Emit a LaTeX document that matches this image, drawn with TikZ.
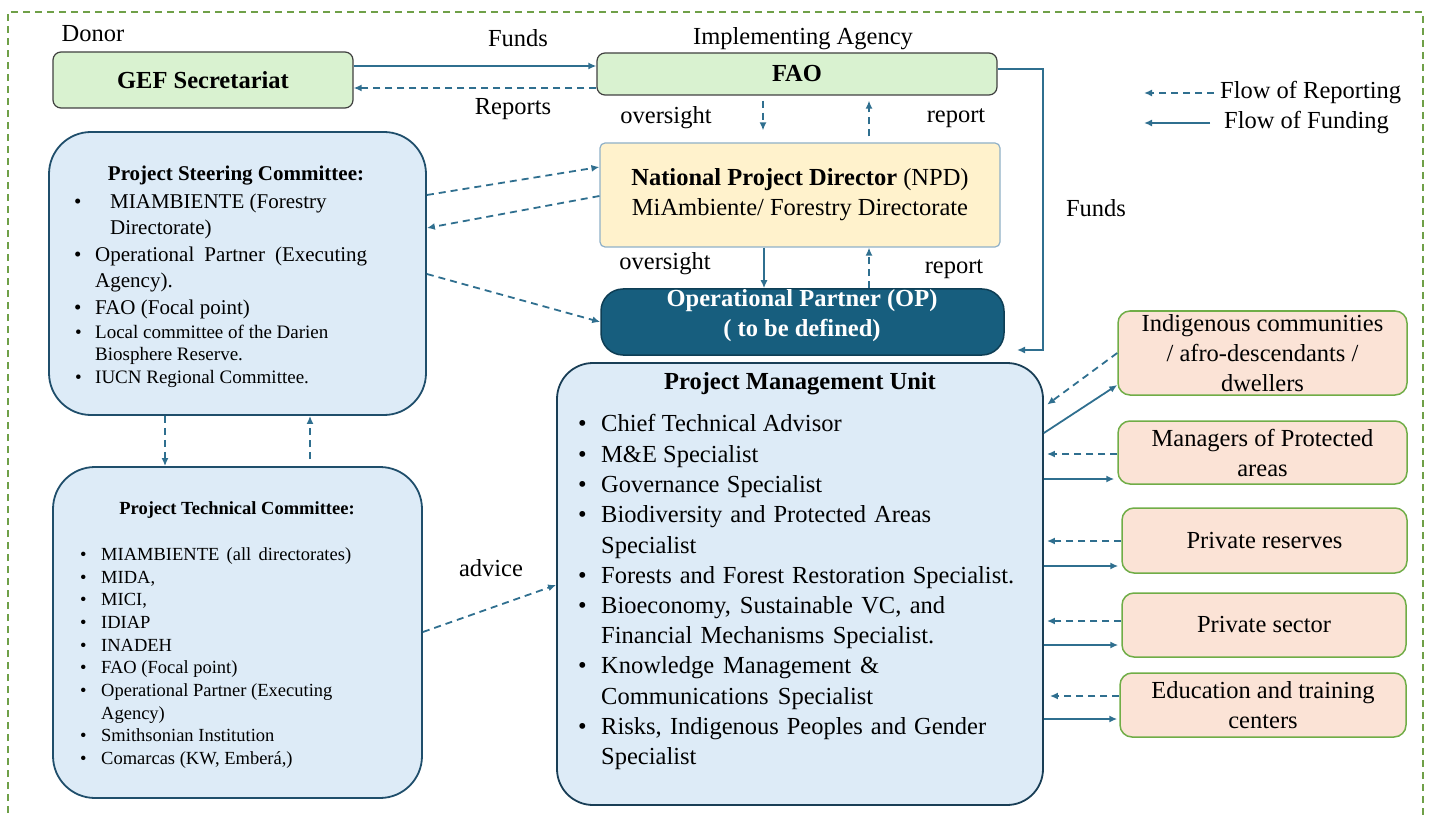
\documentclass[tikz,border=0pt]{standalone}
\usepackage{fontspec}
\setmainfont{Liberation Serif}
\usetikzlibrary{arrows.meta}
\definecolor{arr}{HTML}{2F6F8F}
\definecolor{outg}{HTML}{6FA048}
\definecolor{gfill}{HTML}{D9F2D0}
\definecolor{gdraw}{HTML}{404040}
\definecolor{yfill}{HTML}{FFF2CC}
\definecolor{ydraw}{HTML}{8FB0C8}
\definecolor{opfill}{HTML}{175E7E}
\definecolor{opdraw}{HTML}{0E3E55}
\definecolor{bfill}{HTML}{DDEBF7}
\definecolor{bdraw}{HTML}{1F4E6B}
\definecolor{pfill}{HTML}{FBE3D6}
\definecolor{pdraw}{HTML}{70AD47}
\newcommand\fszL{\fontsize{24.5}{30}\selectfont}
\newcommand\fszM{\fontsize{21}{26}\selectfont}
\newcommand\fszS{\fontsize{18.5}{22.5}\selectfont}
\newcommand\fszT{\fontsize{19}{23}\selectfont}
\begin{document}
\begin{tikzpicture}[x=1pt,y=-1pt,
  fund/.style={draw=arr, line width=1.8pt, -{Latex[length=8pt,width=7pt]}},
  rep/.style={fund, dash pattern=on 7pt off 5pt},
  greenbox/.style={draw=gdraw, fill=gfill, line width=1.2pt, rounded corners=8pt, inner sep=0},
  bluebox/.style={draw=bdraw, fill=bfill, line width=1.8pt, inner sep=0},
  pbox/.style={draw=pdraw, fill=pfill, line width=1.5pt, rounded corners=12pt, inner sep=0, align=center, font=\fszL},
  lbl/.style={inner sep=0, font=\fszL},
  ln/.style={inner sep=0, anchor=mid west},
  lnL/.style={ln, font=\fszL, yshift=-5pt},
  lnM/.style={ln, font=\fszM, yshift=-4.5pt},
  lnT/.style={ln, font=\fszT, yshift=-4pt},
  lnS/.style={ln, font=\fszS, yshift=-4pt},
]
\useasboundingbox (0,0) rectangle (1432,818);
\draw[outg, line width=1.5pt, dash pattern=on 7pt off 5pt] (8,825) -- (8,12) -- (1423,12) -- (1423,825);

% top row
\node[greenbox, minimum width=300, minimum height=56, font=\fszL\bfseries] (gef) at (203,80) {GEF Secretariat};
\node[greenbox, minimum width=400, minimum height=42, font=\fszL\bfseries] (fao) at (797,74) {FAO};
\node[lbl] (donor) at (93,34) {Donor};
\node[lbl] (impl) at (803,39) {Implementing Agency};
\node[lbl] (funds1) at (518,38) {Funds};
\node[lbl] (reports) at (513,109) {Reports};
\node[lbl] (ov1) at (666,118) {oversight};
\node[lbl] (rep1) at (956,118) {report};
\node[lbl] (funds2) at (1096,208) {Funds};
\node[lbl] (ov2) at (665,264) {oversight};
\node[lbl] (rep2) at (954,269) {report};
\node[lbl] (advice) at (491,568) {advice};

% legend
\node[lbl, anchor=west] (legr) at (1220,93) {Flow of Reporting};
\node[lbl, anchor=west] (legf) at (1224,123) {Flow of Funding};
\draw[rep] ([xshift=-6]legr.west) -- ++(-70,0);
\draw[fund] ([xshift=-14]legf.west) -- ++(-66,0);

% NPD and OP
\node[draw=ydraw, fill=yfill, line width=1.2pt, rounded corners=5pt, minimum width=400, minimum height=104, align=center, font=\fszL, inner sep=0] (npd) at (800,195) {\textbf{National Project Director} (NPD)\\MiAmbiente/ Forestry Directorate};
\node[draw=opdraw, fill=opfill, line width=1.5pt, rounded corners=22pt, minimum width=403, minimum height=66, inner sep=0] (op) at (802.5,322) {};
\node[align=center, font=\fszL\bfseries, text=white, inner sep=0] (optext) at (802,316) {Operational Partner (OP)\\( to be defined)};

% PSC
\node[bluebox, rounded corners=42pt, minimum width=377, minimum height=283] (psc) at (237.5,273.5) {};
\node[inner sep=0, font=\fszM\bfseries] (psct) at (236,176) {Project Steering Committee:};
\node[lnM] (pscb1) at (74,202) {•};
\node[lnM] (psc1) at (110,202) {MIAMBIENTE (Forestry};
\node[lnM] (psc1b) at (110,228) {Directorate)};
\node[lnM] (pscb2) at (74,255) {•};
\node[lnM] (psc2) at (95,255) {\makebox[272pt][s]{Operational Partner (Executing}};
\node[lnM] (psc2b) at (95,281) {Agency).};
\node[lnM] (pscb3) at (74,308) {•};
\node[lnM] (psc3) at (95,308) {FAO (Focal point)};
\node[lnT] (pscb4) at (75,332) {•};
\node[lnT] (psc4) at (95,332) {Local committee of the Darien};
\node[lnT] (psc4b) at (95,354) {Biosphere Reserve.};
\node[lnT] (pscb5) at (75,377) {•};
\node[lnT] (psc5) at (95,377) {IUCN Regional Committee.};

% PTC
\node[bluebox, rounded corners=42pt, minimum width=369, minimum height=331] (ptc) at (237.5,632.5) {};
\node[inner sep=0, font=\fszS\bfseries] (ptct) at (237,510) {Project Technical Committee:};
\foreach \yy/\tt [count=\i] in {554/{\makebox[250pt][s]{MIAMBIENTE (all directorates)}},577/{MIDA,},599/{MICI,},622/{IDIAP},645/{INADEH},667/{FAO (Focal point)},690/{Operational Partner (Executing},735/{Smithsonian Institution},758/{Comarcas (KW, Emberá,)}}{
  \node[lnS] (ptcb\i) at (80,\yy) {•};
  \node[lnS] (ptc\i) at (101,\yy) {\tt};
}
\node[lnS] (ptc7b) at (101,713) {Agency)};

% PMU
\node[bluebox, draw=bdraw!80!black, rounded corners=36pt, minimum width=486, minimum height=442] (pmu) at (800,584) {};
\node[inner sep=0, font=\fszL\bfseries] (pmut) at (800,384) {Project Management Unit};
\foreach \yy/\tt [count=\i] in {424/{Chief Technical Advisor},455/{M\&E Specialist},485/{\makebox[221pt][s]{Governance Specialist}},515/{\makebox[330pt][s]{Biodiversity and Protected Areas}},576/{\makebox[413pt][s]{Forests and Forest Restoration Specialist.}},606/{\makebox[344pt][s]{Bioeconomy, Sustainable VC, and}},666/{\makebox[278pt][s]{Knowledge Management \&}},727/{\makebox[385pt][s]{Risks, Indigenous Peoples and Gender}}}{
  \node[lnL] (pmub\i) at (578,\yy) {•};
  \node[lnL] (pmu\i) at (601,\yy) {\tt};
}
\node[lnL] (pmu4b) at (601,546) {Specialist};
\node[lnL] (pmu6b) at (601,636) {\makebox[333pt][s]{Financial Mechanisms Specialist.}};
\node[lnL] (pmu7b) at (601,697) {\makebox[272pt][s]{Communications Specialist}};
\node[lnL] (pmu8b) at (601,757) {Specialist};

% right boxes
\node[pbox, minimum width=289, minimum height=84] (indig) at (1262.5,353) {Indigenous communities\\/ afro-descendants /\\dwellers};
\node[pbox, minimum width=289, minimum height=63] (mgr) at (1262.5,452.5) {Managers of Protected\\areas};
\node[pbox, minimum width=285, minimum height=65] (pres) at (1264.5,540.5) {Private reserves};
\node[pbox, minimum width=284, minimum height=64] (psec) at (1264,625) {Private sector};
\node[pbox, minimum width=286, minimum height=64] (edu) at (1263,705) {Education and training\\centers};

% connectors top
\draw[fund] (gef.east |- 0,66) -- (fao.west |- 0,66);
\draw[rep] (fao.west |- 0,88) -- (gef.east |- 0,88);
\draw[rep, shorten <=5, shorten >=12] (fao.south -| 763,0) -- (npd.north -| 763,0);
\draw[rep, shorten <=6, shorten >=5] (npd.north -| 869,0) -- (fao.south -| 869,0);
\coordinate (fin) at (1017,350);
\draw[fund] (fao.east |- 0,69) -| (1043,350) -- (fin);
\draw[fund] (npd.south -| 764,0) -- (op.north -| 764,0);
\draw[rep] (op.north -| 869,0) -- (npd.south -| 869,0);

% PSC connectors
\draw[rep] (psc.east |- 0,195) -- (npd.west |- 0,167);
\draw[rep] (npd.west |- 0,196) -- (psc.east |- 0,228);
\draw[rep] (psc.east |- 0,274) -- (op.west |- 0,322);
\draw[rep] (psc.south -| 165,0) -- (ptc.north -| 165,0);
\draw[rep, shorten <=7] (ptc.north -| 310,0) -- (psc.south -| 310,0);
\draw[rep] (ptc.east |- 0,632) -- (pmu.west |- 0,585);

% right connectors
\draw[rep, shorten >=4] (indig.west |- 0,353) -- (pmu.east |- 0,407);
\draw[fund] (pmu.east |- 0,433) -- (indig.west |- 0,385);
\draw[rep, shorten >=3] (mgr.west |- 0,454) -- (pmu.east |- 0,454);
\draw[fund, shorten >=3] (pmu.east |- 0,479) -- (mgr.west |- 0,479);
\draw[rep, shorten >=3] (pres.west |- 0,541) -- (pmu.east |- 0,541);
\draw[fund, shorten >=3] (pmu.east |- 0,566) -- (pres.west |- 0,566);
\draw[rep, shorten >=3] (psec.west |- 0,621) -- (pmu.east |- 0,621);
\draw[fund, shorten >=3] (pmu.east |- 0,645) -- (psec.west |- 0,645);
\draw[rep, shorten >=6] (edu.west |- 0,696) -- (pmu.east |- 0,696);
\draw[fund, shorten >=2] (pmu.east |- 0,719) -- (edu.west |- 0,719);
\end{tikzpicture}
\end{document}
